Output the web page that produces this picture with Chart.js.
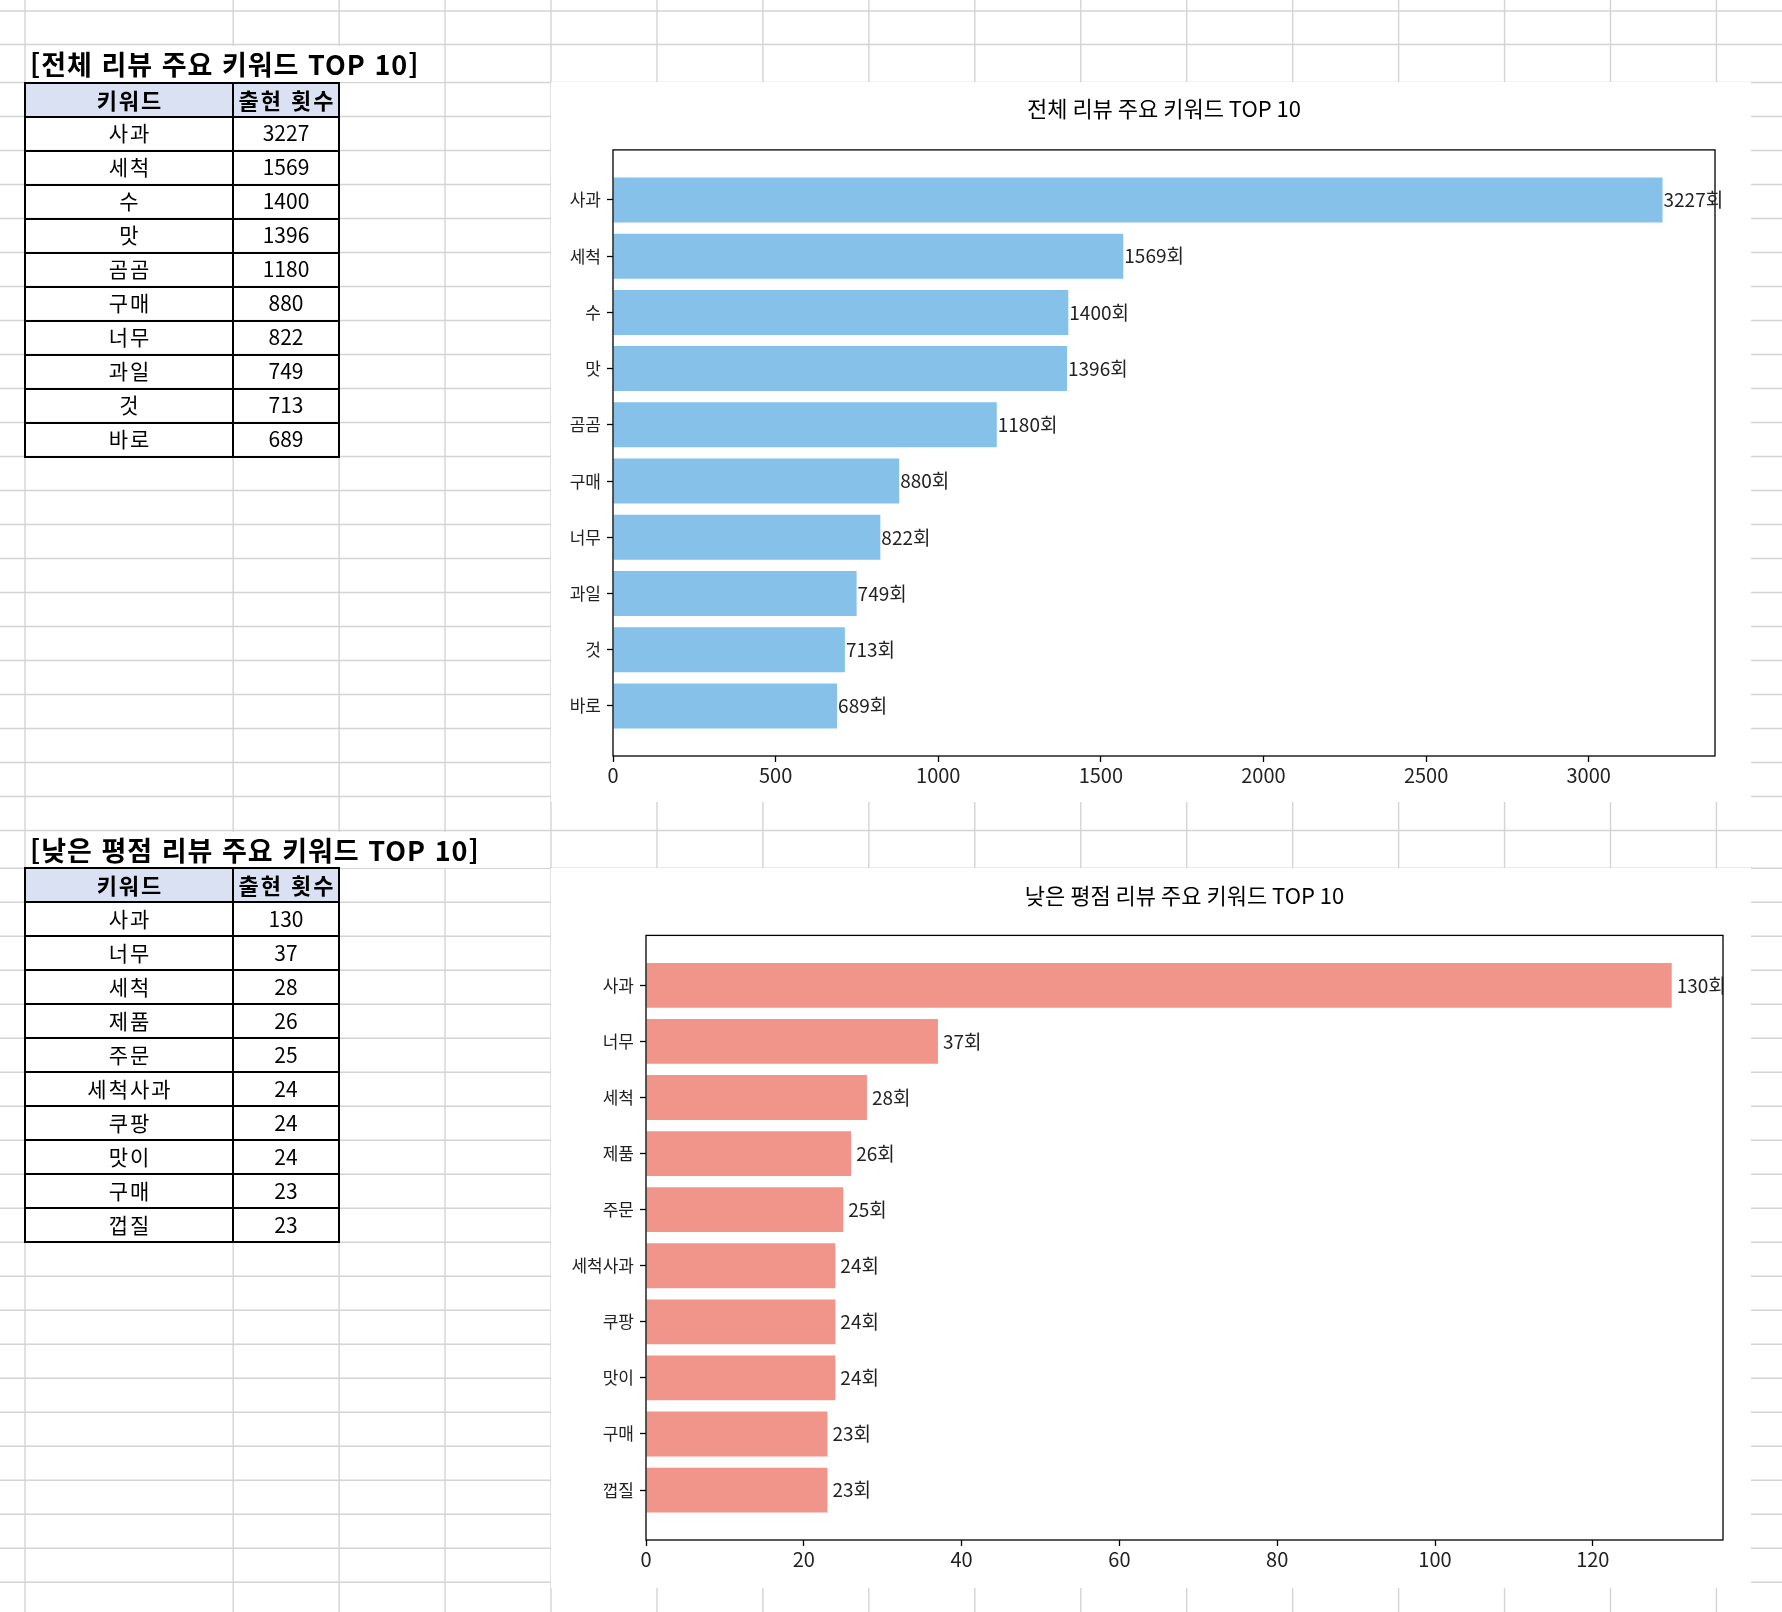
<!DOCTYPE html>
<html lang="ko">
<head>
<meta charset="utf-8">
<title>리뷰 주요 키워드 TOP 10</title>
<script src="https://cdn.jsdelivr.net/npm/chart.js@4.4.1/dist/chart.umd.min.js"></script>
<style>
  html, body { margin: 0; padding: 0; background: #fff; }
  body { width: 1782px; height: 1612px; position: relative; overflow: hidden;
         font-family: "Noto Sans CJK KR", "Noto Sans", sans-serif; color: #000; }
  #sheet { position: absolute; left: 0; top: 0; }
  .title { position: absolute; background: #fff; font-weight: bold; font-size: 27px; letter-spacing: 1px;
           line-height: 1; display: flex; align-items: center; white-space: nowrap;
           padding-left: 4px; box-sizing: border-box; }
  .cell { position: absolute; display: flex; align-items: center; justify-content: center;
          font-size: 21px; line-height: 1; white-space: nowrap; padding-bottom: 2px; box-sizing: border-box; }
  .cell.key { letter-spacing: 2px; padding-left: 2px; }
  .cell.head { font-weight: bold; font-size: 22px; letter-spacing: 2px; padding-left: 2px; }
  .line { position: absolute; background: #000; }
  .chartbox { position: absolute; width: 1200px; height: 720px; background: #fff; }
</style>
</head>
<body>
<canvas id="sheet" width="1782" height="1612"></canvas>
<div id="tables"></div>
<div class="chartbox" style="left:551px; top:82px;"><canvas id="chart-all" width="1200" height="720"></canvas></div>
<div class="chartbox" style="left:551px; top:868px;"><canvas id="chart-low" width="1200" height="720"></canvas></div>

<script>
// 전체 리뷰
const allKeywords = ["사과", "세척", "수", "맛", "곰곰", "구매", "너무", "과일", "것", "바로"];
const allCounts = [3227, 1569, 1400, 1396, 1180, 880, 822, 749, 713, 689];
const allTicks = [0, 500, 1000, 1500, 2000, 2500, 3000];

// 낮은 평점 리뷰
const lowKeywords = ["사과", "너무", "세척", "제품", "주문", "세척사과", "쿠팡", "맛이", "구매", "껍질"];
const lowCounts = [130, 37, 28, 26, 25, 24, 24, 24, 23, 23];
const lowTicks = [0, 20, 40, 60, 80, 100, 120];

const headers = ["키워드", "출현 횟수"];
const FONT = '"Noto Sans CJK KR", "Noto Sans", sans-serif';

// --- spreadsheet grid in the background ---
const sheet = document.getElementById("sheet").getContext("2d");
const cols = [25];
for (let k = -3; k <= 12; k++) cols.push(551 + 105.95 * k);
const rows = [11, 44.5];
for (let k = 0; k <= 21; k++) rows.push(82.5 + 34 * k);
rows.push(830.5);
for (let k = 0; k <= 22; k++) rows.push(868.3 + 34 * k);
sheet.strokeStyle = "#d4d4d4";
sheet.lineWidth = 1.4;
cols.forEach(x => { sheet.beginPath(); sheet.moveTo(x, 0); sheet.lineTo(x, 1612); sheet.stroke(); });
rows.forEach(y => { sheet.beginPath(); sheet.moveTo(0, y); sheet.lineTo(1782, y); sheet.stroke(); });

// --- titles and tables ---
const holder = document.getElementById("tables");
function addDiv(cls, style, text) {
  const d = document.createElement("div");
  d.className = cls;
  Object.assign(d.style, style);
  if (text !== undefined) d.textContent = text;
  holder.appendChild(d);
  return d;
}

function buildTable(titleText, titleWidth, titleTop, top, keys, vals) {
  addDiv("title", { left: "26px", top: (titleTop + 1) + "px", width: titleWidth + "px", height: "36px" }, titleText);
  const rowH = 34, x0 = 25, x1 = 233, x2 = 339;
  addDiv("", { position: "absolute", left: x0 + "px", top: top + "px", width: (x2 - x0) + "px",
               height: rowH + "px", background: "#d9e1f2" });
  const put = (r, a, b, clsA, clsB) => {
    addDiv(clsA, { left: x0 + "px", top: (top + r * rowH) + "px", width: (x1 - x0) + "px", height: rowH + "px" }, a);
    addDiv(clsB, { left: x1 + "px", top: (top + r * rowH) + "px", width: (x2 - x1) + "px", height: rowH + "px" }, b);
  };
  put(0, headers[0], headers[1], "cell head", "cell head");
  keys.forEach((k, i) => put(i + 1, k, String(vals[i]), "cell key", "cell"));
  for (let r = 0; r <= keys.length + 1; r++) {
    addDiv("line", { left: (x0 - 1) + "px", top: (top + r * rowH - 1) + "px", width: (x2 - x0 + 2) + "px", height: "2px" });
  }
  [x0, x1, x2].forEach(x => {
    addDiv("line", { left: (x - 1) + "px", top: (top - 1) + "px", width: "2px", height: ((keys.length + 1) * rowH + 2) + "px" });
  });
}
buildTable("[전체 리뷰 주요 키워드 TOP 10]", 418, 44.5, 82.5, allKeywords, allCounts);
buildTable("[낮은 평점 리뷰 주요 키워드 TOP 10]", 524, 830.5, 868.3, lowKeywords, lowCounts);

// --- charts ---
const framePlugin = {
  id: "frame",
  afterDatasetsDraw(chart) {
    const { ctx, chartArea: a } = chart;
    ctx.save();
    ctx.strokeStyle = "#000";
    ctx.lineWidth = 1.3;
    ctx.strokeRect(a.left, a.top, a.right - a.left, a.bottom - a.top);
    ctx.restore();
  }
};

const barLabelPlugin = {
  id: "barLabels",
  afterDraw(chart, args, opts) {
    const { ctx } = chart;
    const meta = chart.getDatasetMeta(0);
    const values = chart.data.datasets[0].data;
    ctx.save();
    ctx.font = "19px " + FONT;
    ctx.fillStyle = "#222";
    ctx.textAlign = "left";
    ctx.textBaseline = "middle";
    meta.data.forEach((bar, i) => {
      ctx.fillText(values[i].x + "회", bar.x + opts.pad, bar.y);
    });
    ctx.restore();
  }
};

function makeChart(id, title, keys, vals, ticks, color, geom) {
  const n = keys.length;
  const maxX = Math.max(...vals) * 1.05;
  const margin = (n - 1 + 0.8) * 0.05;
  return new Chart(document.getElementById(id), {
    type: "bar",
    data: {
      datasets: [{
        data: vals.map((v, i) => ({ x: v, y: i })),
        backgroundColor: color,
        borderWidth: 0,
        categoryPercentage: 1,
        barPercentage: 0.8
      }]
    },
    options: {
      indexAxis: "y",
      responsive: false,
      animation: false,
      layout: { padding: { left: 0, right: geom.right, top: 0, bottom: 0 } },
      plugins: {
        legend: { display: false },
        tooltip: { enabled: false },
        title: {
          display: true,
          text: title,
          fullSize: false,
          color: "#000",
          font: { family: FONT, size: 22, weight: "normal" },
          padding: { top: geom.titleTop, bottom: geom.titleBottom }
        },
        barLabels: { pad: geom.labelPad }
      },
      scales: {
        x: {
          type: "linear",
          min: 0,
          max: maxX,
          afterBuildTicks: s => { s.ticks = ticks.map(v => ({ value: v })); },
          afterFit: s => { s.height = geom.bottom; },
          border: { display: false },
          grid: { drawOnChartArea: false, drawTicks: true, tickLength: 6, tickColor: "#000", tickWidth: 1.3 },
          ticks: { color: "#222", padding: 1, maxRotation: 0, font: { family: FONT, size: 20 },
                   callback: v => String(v) }
        },
        y: {
          type: "linear",
          reverse: true,
          offset: false,
          min: -0.4 - margin,
          max: n - 1 + 0.4 + margin,
          afterBuildTicks: s => { s.ticks = keys.map((k, i) => ({ value: i })); },
          afterFit: s => { s.width = geom.left; },
          border: { display: false },
          grid: { offset: false, drawOnChartArea: false, drawTicks: true, tickLength: 6, tickColor: "#000", tickWidth: 1.3 },
          ticks: { color: "#222", padding: 6, autoSkip: false, font: { family: FONT, size: 17 },
                   callback: v => keys[v] }
        }
      }
    },
    plugins: [framePlugin, barLabelPlugin]
  });
}

makeChart("chart-all", "전체 리뷰 주요 키워드 TOP 10", allKeywords, allCounts, allTicks, "#85c1e9",
  { left: 62, right: 36, bottom: 46, titleTop: 13.5, titleBottom: 28, labelPad: 1 });
makeChart("chart-low", "낮은 평점 리뷰 주요 키워드 TOP 10", lowKeywords, lowCounts, lowTicks, "#f1948a",
  { left: 95, right: 28, bottom: 48, titleTop: 14, titleBottom: 27, labelPad: 5 });
</script>
</body>
</html>
